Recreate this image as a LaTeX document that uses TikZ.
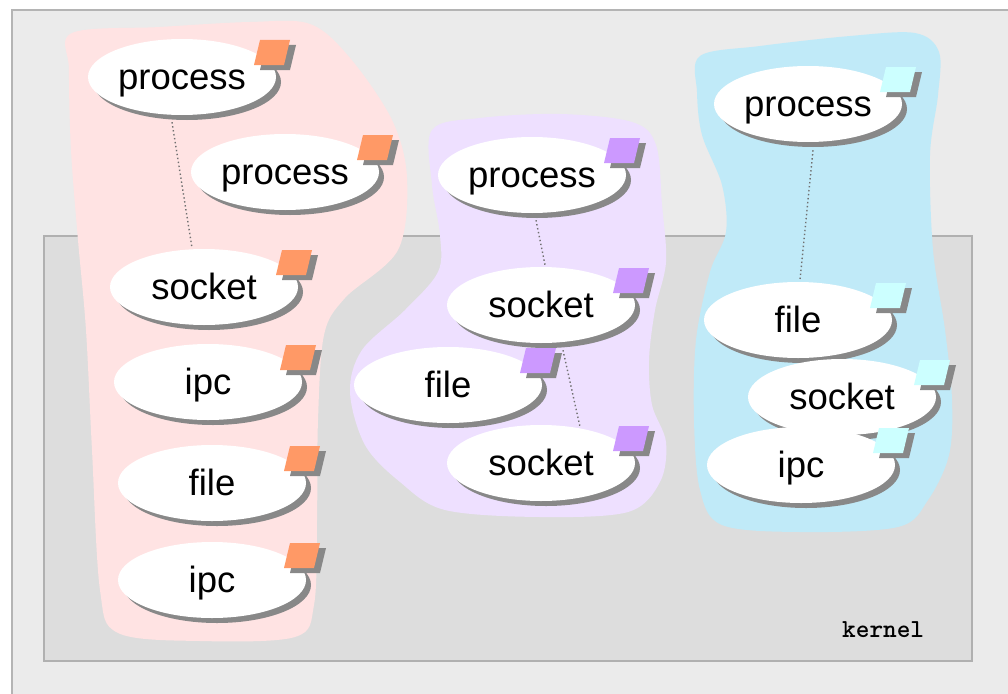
\documentclass[tikz,border=0pt]{standalone}
\usepackage{fontspec}
\setmainfont{Liberation Sans}
\usetikzlibrary{shapes.geometric,shadows,calc}

\definecolor{framebg}{HTML}{EBEBEB}
\definecolor{frameline}{HTML}{B4B4B4}
\definecolor{kernelbg}{HTML}{DDDDDD}
\definecolor{kernelline}{HTML}{B0B0B0}
\definecolor{pinkblob}{HTML}{FFE3E3}
\definecolor{violetblob}{HTML}{EEE0FF}
\definecolor{blueblob}{HTML}{C0EAF8}
\definecolor{orangetag}{HTML}{FF9966}
\definecolor{violettag}{HTML}{CC99FF}
\definecolor{cyantag}{HTML}{CCFFFF}
\definecolor{shadowgray}{HTML}{888888}
\definecolor{linkgray}{HTML}{707070}

% small skewed square in the upper right corner of an object
\newcommand\objtag[2]{%
  \fill[shadowgray] ($(#1)+(78,-7)$) -- ($(#1)+(108,-7)$) -- ($(#1)+(114,-32)$) -- ($(#1)+(84,-32)$) -- cycle;
  \fill[#2] ($(#1)+(72,-12)$) -- ($(#1)+(102,-12)$) -- ($(#1)+(108,-37)$) -- ($(#1)+(78,-37)$) -- cycle;
}

\begin{document}
\begin{tikzpicture}[x=1pt,y=-1pt,
  obj/.style={ellipse, fill=white, minimum width=188pt, minimum height=76pt,
    inner sep=0pt, text height=25pt, text depth=0pt,
    font=\fontsize{36.5}{40}\selectfont,
    general shadow={fill=shadowgray, shadow xshift=5pt, shadow yshift=-5pt}},
  link/.style={draw=linkgray, line width=1.4pt, dash pattern=on 1.4pt off 2.6pt},
  blob/.style={smooth cycle, tension=0.55}]

\useasboundingbox (0,0) rectangle (1008,693);
\fill[white] (0,0) rectangle (1008,693);
\begin{scope}
  \clip (0,0) rectangle (1008,693);
  \filldraw[fill=framebg, draw=frameline, line width=1.2pt] (12,10) rectangle (1030,710);
\end{scope}

% kernel area
\filldraw[fill=kernelbg, draw=kernelline, line width=1.2pt] (44,236) rectangle (972,661);
\node[font=\ttfamily\bfseries\fontsize{26}{28}\selectfont, anchor=base west, inner sep=0pt]
  (klabel) at (842,637) {kernel};

% groups
\fill[pinkblob] plot[blob] coordinates {
  (72,33) (160,27) (250,22) (310,24) (350,58) (392,120) (407,178) (398,250)
  (345,298) (324,335) (318,420) (317,520) (314,605) (295,637) (200,641)
  (118,633) (100,590) (92,450) (86,330) (78,240) (71,150) (69,70)};
\fill[violetblob] plot[blob] coordinates {
  (432,130) (480,118) (560,114) (632,122) (656,145) (662,205) (666,262)
  (655,310) (649,360) (652,405) (666,442) (660,482) (628,512) (540,517)
  (445,510) (400,482) (365,445) (350,392) (362,350) (405,310) (438,272)
  (440,235) (432,185)};
\fill[blueblob] plot[blob] coordinates {
  (700,56) (760,46) (850,36) (915,33) (939,52) (938,95) (930,155) (933,250)
  (945,330) (952,400) (949,455) (928,500) (898,527) (800,532) (722,525)
  (700,490) (694,420) (696,340) (710,272) (726,232) (722,185) (702,135)
  (697,92)};

% objects of the first group
\node[obj] (p1) at (182,77) {process};
\objtag{p1}{orangetag}
\node[obj] (p2) at (285,172) {process};
\objtag{p2}{orangetag}
\node[obj] (s1) at (204,287) {socket};
\objtag{s1}{orangetag}
\node[obj] (i1) at (208,382) {ipc};
\objtag{i1}{orangetag}
\node[obj] (f1) at (212,483) {file};
\objtag{f1}{orangetag}
\node[obj] (i2) at (212,580) {ipc};
\objtag{i2}{orangetag}

% objects of the second group
\node[obj] (p3) at (532,175) {process};
\objtag{p3}{violettag}
\node[obj] (s2) at (541,305) {socket};
\objtag{s2}{violettag}
\node[obj] (f2) at (448,385) {file};
\objtag{f2}{violettag}
\node[obj] (s3) at (541,463) {socket};
\objtag{s3}{violettag}

% objects of the third group
\node[obj] (p4) at (808,104) {process};
\objtag{p4}{cyantag}
\node[obj] (f3) at (798,320) {file};
\objtag{f3}{cyantag}
\node[obj] (s4) at (842,397) {socket};
\objtag{s4}{cyantag}
\node[obj] (i3) at (801,465) {ipc};
\objtag{i3}{cyantag}

% references between objects
\draw[link] ($(p1.south)+(-10,7)$) -- ($(s1.north)+(-12,-1)$);
\draw[link] ($(p3.south)+(4,7)$) -- ($(s2.north)+(4,-2)$);
\draw[link] ($(s2.south)+(22,7)$) -- ($(s3.north)+(39,2)$);
\draw[link] ($(p4.south)+(5,8)$) -- ($(f3.north)+(2,-2)$);
\end{tikzpicture}
\end{document}
